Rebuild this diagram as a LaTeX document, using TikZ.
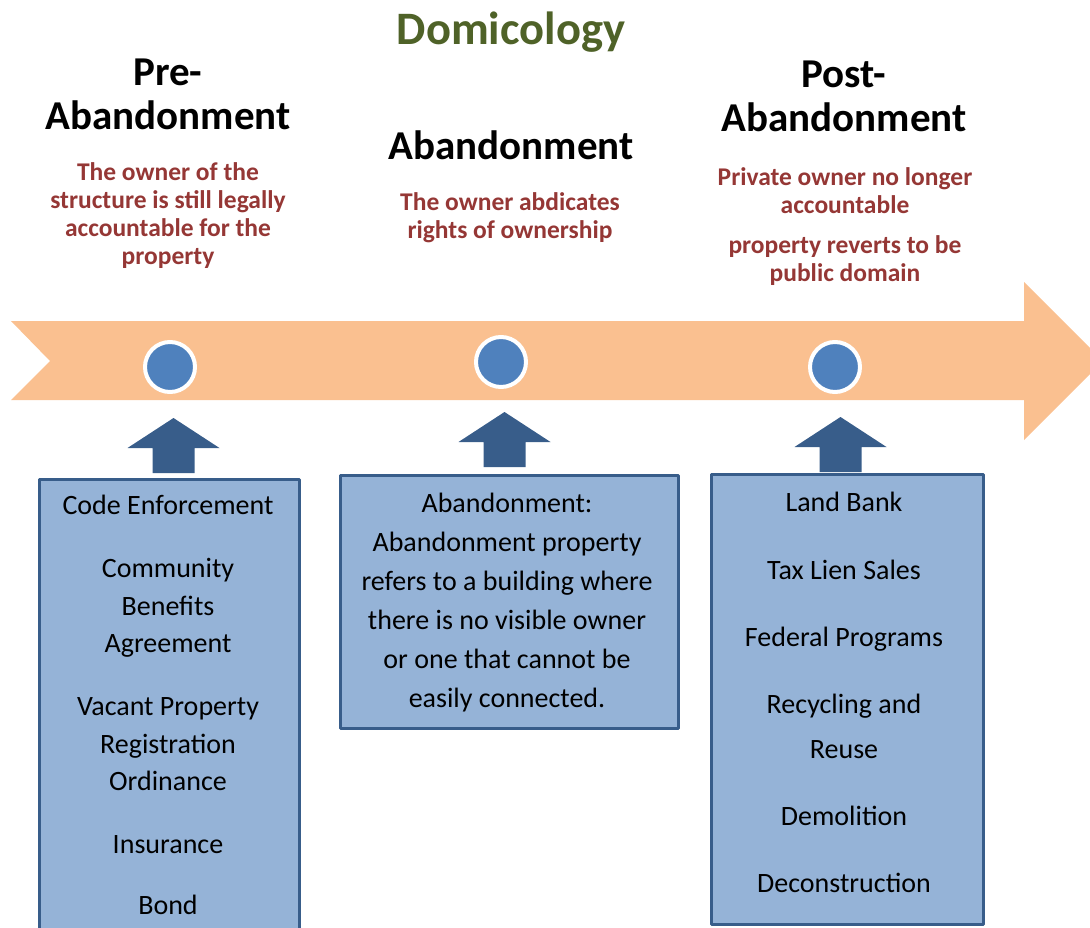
\documentclass[tikz,border=0pt]{standalone}
\usepackage{fontspec}
\setmainfont{Carlito}
\usetikzlibrary{calc}
\definecolor{bandorange}{HTML}{FAC090}
\definecolor{dotblue}{HTML}{4F81BD}
\definecolor{darkblue}{HTML}{385D8A}
\definecolor{boxblue}{HTML}{95B3D7}
\definecolor{notered}{HTML}{953735}
\definecolor{titlegreen}{HTML}{4F6228}
\begin{document}
\begin{tikzpicture}[
		x=1pt,y=-1pt,
		line join=round,
		heading/.style={font=\fontsize{41}{44}\selectfont\bfseries,align=center,anchor=north,inner sep=0pt},
		note/.style={font=\fontsize{25.5}{28}\selectfont\bfseries,text=notered,align=center,anchor=north,inner sep=0pt},
		itembox/.style={draw=darkblue,line width=3pt,fill=boxblue,anchor=north west,inner sep=0pt},
		itemtext/.style={font=\fontsize{28}{37.5}\selectfont,align=center,anchor=north,inner sep=0pt},
		dot/.style={circle,fill=dotblue,draw=white,line width=4pt,minimum size=50pt,inner sep=0pt},
		uparrow/.style={fill=darkblue}
		]
		\useasboundingbox (0,0) rectangle (1090,928);
		\clip (0,0) rectangle (1090,928);
		% timeline band
		\fill[bandorange] (11,321) -- (1024,321) -- (1024,282) -- (1103,361) -- (1024,440) -- (1024,400) -- (11,400) -- (50,361) -- cycle;
		\node[dot] (pre) at (170,367) {};
		\node[dot] (aban) at (501,362) {};
		\node[dot] (post) at (835,367) {};
		% titles
		\node[font=\fontsize{46.5}{50}\selectfont\bfseries,text=titlegreen,anchor=north,inner sep=0pt] (title) at (511,12) {Domicology};
		\node[heading] (prehead) at (168,59) {Pre-\\Abandonment};
		\node[heading] (abanhead) at (511,131) {Abandonment};
		\node[heading] (posthead) at (844,61) {Post-\\Abandonment};
		\node[note] (prenote) at (168,162) {The owner of the\\structure is still legally\\accountable for the\\property};
		\node[note] (abannote) at (510,192) {The owner abdicates\\rights of ownership};
		\node[note,font=\fontsize{25.5}{28}\selectfont\bfseries] (postnote) at (845,167) {Private owner no longer\\accountable\\[12pt]property reverts to be\\public domain};
		% boxes
		\node[itembox,minimum width=260,minimum height=470] (prebox) at (38,478) {};
		\node[itembox,minimum width=338,minimum height=253] (abanbox) at (339,474) {};
		\node[itembox,minimum width=272,minimum height=450] (postbox) at (710,473) {};
		\node[itemtext] (prelist) at (168,495) {Code Enforcement\\[25.5pt]Community\\Benefits\\Agreement\\[25.5pt]Vacant Property\\Registration\\Ordinance\\[25pt]Insurance\\[24pt]Bond};
		\node[itemtext,font=\fontsize{28}{39}\selectfont] (abanlist) at (507,493) {Abandonment:\\Abandonment property\\refers to a building where\\there is no visible owner\\or one that cannot be\\easily connected.};
		\node[itemtext,font=\fontsize{28}{45}\selectfont] (postlist) at (844,492) {Land Bank\\[23pt]Tax Lien Sales\\[22pt]Federal Programs\\[22pt]Recycling and\\Reuse\\[22pt]Demolition\\[22pt]Deconstruction};
		% arrows from boxes up to the timeline
		\foreach \b/\dx/\dy in {prebox/4/5,abanbox/-5/7,postbox/-7/1}
		\fill[uparrow] ($(\b.north)+(\dx-21,-\dy)$) -- ++(0,-25) -- ++(-25,0) -- ++(46,-30) -- ++(46,30) -- ++(-25,0) -- ++(0,25) -- cycle;
		\end{tikzpicture}
\end{document}
